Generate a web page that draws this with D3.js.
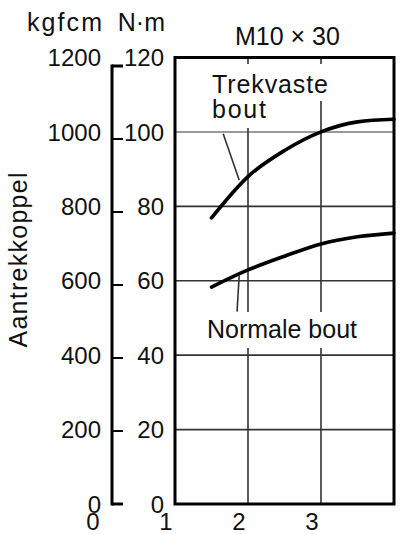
<!DOCTYPE html>
<html>
<head>
<meta charset="utf-8">
<script src="https://cdn.jsdelivr.net/npm/d3@7"></script>
<style>
  body { margin: 0; background: #fff; }
  svg { display: block; font-family: "Liberation Sans", Arial, sans-serif; }
</style>
</head>
<body>
<svg width="403" height="534"></svg>
<script>
// data
var xValues = [1.5, 2, 2.5, 3, 3.5, 4];
var trekvaste = [76.9, 88, 95, 100, 102.7, 103.4];
var normale = [58.3, 62.9, 66.6, 69.9, 71.8, 72.8];
var nmTicks = [0, 20, 40, 60, 80, 100, 120];
var kgfTicks = [0, 200, 400, 600, 800, 1000, 1200];
var xTicks = [0, 1, 2, 3];

var svg = d3.select("svg");
var x = d3.scaleLinear().domain([1, 4]).range([175, 394]);
var yR = d3.scaleLinear().domain([0, 120]).range([504, 57.5]);
var yL = d3.scaleLinear().domain([0, 1200]).range([504, 66]);

// grid
var grid = svg.append("g");
grid.selectAll("line.h")
  .data(nmTicks.filter(function(d) { return d > 0 && d < 120; }))
  .enter().append("line")
  .attr("x1", x(1)).attr("x2", x(4))
  .attr("y1", d => yR(d)).attr("y2", d => yR(d))
  .attr("stroke", d => d === 100 ? "#999" : "#333")
  .attr("stroke-width", d => d === 100 ? 2 : 1.6);
grid.selectAll("line.v")
  .data([2, 3])
  .enter().append("line")
  .attr("x1", d => x(d)).attr("x2", d => x(d))
  .attr("y1", yR(120)).attr("y2", yR(0))
  .attr("stroke", "#333")
  .attr("stroke-width", 1.6);

// curves
var line = d3.line()
  .x(function(d, i) { return x(xValues[i]); })
  .y(function(d) { return yR(d); })
  .curve(d3.curveMonotoneX);
[trekvaste, normale].forEach(function(s) {
  svg.append("path")
    .attr("d", line(s))
    .attr("fill", "none")
    .attr("stroke", "#000")
    .attr("stroke-width", 3.6)
    .attr("stroke-linecap", "round");
});

// labels with white boxes behind them
var labels = [
  {t: "Trekvaste", x: 212, y: 93, len: 116, box: [209, 64, 122, 37]},
  {t: "bout", x: 212, y: 118, len: 54, box: [209, 100, 61, 28]},
  {t: "Normale bout", x: 207, y: 338, len: 150, box: [203, 312, 157, 36]}
];
labels.forEach(function(l) {
  svg.append("rect")
    .attr("x", l.box[0]).attr("y", l.box[1])
    .attr("width", l.box[2]).attr("height", l.box[3])
    .attr("fill", "#fff");
  svg.append("text")
    .attr("x", l.x).attr("y", l.y)
    .attr("font-size", 25)
    .attr("textLength", l.len)
    .attr("lengthAdjust", "spacing")
    .attr("fill", "#111")
    .text(l.t);
});

// leader lines
var leaders = [
  [[1.66, 99.5], [1.88, 87.0]],
  [[1.88, 61.6], [1.85, 51.7]]
];
leaders.forEach(function(p) {
  svg.append("line")
    .attr("x1", x(p[0][0])).attr("y1", yR(p[0][1]))
    .attr("x2", x(p[1][0])).attr("y2", yR(p[1][1]))
    .attr("stroke", "#333").attr("stroke-width", 1.6);
});

// plot frame
svg.append("rect")
  .attr("x", x(1)).attr("y", yR(120))
  .attr("width", x(4) - x(1)).attr("height", yR(0) - yR(120))
  .attr("fill", "none")
  .attr("stroke", "#000")
  .attr("stroke-width", 3);

// left kgfcm axis
svg.append("line")
  .attr("x1", 112).attr("x2", 112)
  .attr("y1", yL(1200) - 1.5).attr("y2", yL(0) + 1.5)
  .attr("stroke", "#000").attr("stroke-width", 3);
svg.selectAll("line.kt")
  .data(kgfTicks)
  .enter().append("line")
  .attr("x1", 112).attr("x2", 123)
  .attr("y1", d => yL(d)).attr("y2", d => yL(d))
  .attr("stroke", "#000")
  .attr("stroke-width", d => (d === 0 || d === 1200) ? 3 : 2);

svg.selectAll("text.kl")
  .data(kgfTicks)
  .enter().append("text")
  .attr("x", 101)
  .attr("y", d => yR(d / 10))
  .attr("dy", "0.36em")
  .attr("text-anchor", "end")
  .attr("font-size", 24)
  .attr("fill", "#111")
  .text(d => d);

svg.selectAll("text.nl")
  .data(nmTicks)
  .enter().append("text")
  .attr("x", 164)
  .attr("y", d => yR(d))
  .attr("dy", "0.36em")
  .attr("text-anchor", "end")
  .attr("font-size", 24)
  .attr("fill", "#111")
  .text(d => d);

// x tick labels
svg.selectAll("text.xl")
  .data(xTicks)
  .enter().append("text")
  .attr("x", d => x(d) - 9)
  .attr("y", 530)
  .attr("text-anchor", "middle")
  .attr("font-size", 24)
  .attr("fill", "#111")
  .text(d => d);

// units and title
svg.append("text")
  .attr("x", 102).attr("y", 31)
  .attr("text-anchor", "end")
  .attr("font-size", 25)
  .attr("textLength", 75).attr("lengthAdjust", "spacing")
  .attr("fill", "#111")
  .text("kgfcm");
svg.append("text")
  .attr("x", 165).attr("y", 31)
  .attr("text-anchor", "end")
  .attr("font-size", 25)
  .attr("fill", "#111")
  .text("N·m");
svg.append("text")
  .attr("x", 235).attr("y", 45)
  .attr("font-size", 25)
  .attr("fill", "#111")
  .text("M10 × 30");

svg.append("text")
  .attr("transform", "translate(27,260) rotate(-90)")
  .attr("text-anchor", "middle")
  .attr("font-size", 25)
  .attr("textLength", 175).attr("lengthAdjust", "spacing")
  .attr("fill", "#111")
  .text("Aantrekkoppel");
</script>
</body>
</html>
